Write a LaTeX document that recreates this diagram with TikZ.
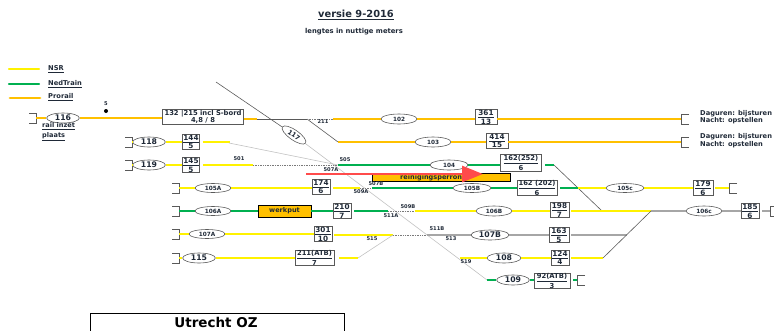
\documentclass[tikz,border=0pt]{standalone}
\usepackage{fontspec}
\setmainfont{DejaVu Sans}
\usetikzlibrary{positioning,shapes.geometric,arrows.meta,calc}
\definecolor{nsrYellow}{HTML}{FFF200}
\definecolor{ntGreen}{HTML}{00B050}
\definecolor{prOrange}{HTML}{FFC000}
\definecolor{inkText}{HTML}{1F2937}
\definecolor{lineGrey}{HTML}{A6A6A6}
\definecolor{edgeGrey}{HTML}{595959}
\definecolor{redArrow}{HTML}{FF4B4B}

\begin{document}
\begin{tikzpicture}[
  x=0.03cm, y=-0.03cm,
  every node/.style={text=inkText},
  oval/.style={ellipse, draw=edgeGrey, line width=0.5pt, fill=white, inner sep=0pt,
               minimum width=1.08cm, minimum height=0.3cm, font=\fontsize{4.9}{5}\selectfont\bfseries},
  ovalbig/.style={oval, minimum width=0.98cm, font=\fontsize{6.6}{7}\selectfont\bfseries},
  spot/.style={draw=edgeGrey, line width=0.8pt, fill=white, align=center, inner sep=0pt,
               font=\fontsize{6.2}{6.6}\selectfont\bfseries, minimum height=0.45cm},
  spotw/.style={spot, font=\fontsize{5.8}{6.6}\selectfont\bfseries},
  wissel/.style={font=\fontsize{4.4}{5}\selectfont\bfseries, inner sep=0pt},
  note/.style={font=\fontsize{5.7}{7}\selectfont\bfseries, align=left, inner sep=0pt, anchor=west},
  nsr/.style={draw=nsrYellow, line width=2pt},
  nedtrain/.style={draw=ntGreen, line width=2pt},
  prorail/.style={draw=prOrange, line width=2.3pt},
  grijs/.style={draw=lineGrey, line width=1.5pt},
  thinline/.style={draw=edgeGrey, line width=0.5pt},
  faint/.style={draw=lineGrey!70, line width=0.5pt},
  dotline/.style={draw=edgeGrey!80, line width=0.45pt, densely dotted},
  buffer/.style={draw=edgeGrey, line width=0.7pt},
]
\useasboundingbox (0,0) rectangle (774,330);

% ---------------- TITLE + LEGEND ----------------
\node[font=\fontsize{8.4}{9}\selectfont\bfseries, inner sep=0pt] (TITLE) at (356,15) {\underline{versie 9-2016}};
\node[font=\fontsize{5.8}{7}\selectfont\bfseries, inner sep=0pt] (SUB) at (354,32) {lengtes in nuttige meters};
\coordinate (legA1) at (9,69);  \coordinate (legA2) at (39,69);
\coordinate (legB1) at (9,84);  \coordinate (legB2) at (39,84);
\coordinate (legC1) at (10,98); \coordinate (legC2) at (40,98);
\draw[nsr, line cap=round] (legA1) -- (legA2);
\draw[nedtrain, line cap=round] (legB1) -- (legB2);
\draw[prorail, line cap=round] (legC1) -- (legC2);
\node[note] (legNSR) at (48,69) {\underline{NSR}};
\node[note] (legNT) at (48,84) {\underline{NedTrain}};
\node[note] (legPR) at (48,97) {\underline{Prorail}};

% ---------------- JUNCTIONS ----------------
\coordinate (J117a) at (216,82);
\coordinate (J211) at (307,119);
\coordinate (J102) at (333,119);
\coordinate (J103) at (338,142);
\coordinate (J118) at (229,143);
\coordinate (J505) at (338,165);
\coordinate (J501) at (253,165);
\coordinate (J117b) at (487,280);
\coordinate (J507) at (372,188);
\coordinate (J509) at (360,188);
\coordinate (J511) at (388,211);
\coordinate (J509b) at (415,211);
\coordinate (J515) at (393,235);
\coordinate (J511b) at (427,235);
\coordinate (J515b) at (358,258);
\coordinate (J108) at (603,258);
\coordinate (J106) at (651,211);
\coordinate (J105) at (578,188);
\coordinate (J162) at (554,165);
\coordinate (J162b) at (602,211);
\coordinate (J519) at (460,258);
\coordinate (J107) at (627,235);

% ---------------- NODES (absolute grid) ----------------
\node[ovalbig] (E116) at (63,118) {116};
\node[spotw, minimum width=2.43cm] (S132) at (203,117) {132 |215 incl S-bord\\4,8 / 8};
\node[oval] (E102) at (399,119) {102};
\node[spot, minimum width=0.66cm] (S361) at (486,117) {\underline{361}\\13};
\node[oval] (E103) at (433,142) {103};
\node[spot, minimum width=0.66cm] (S414) at (497,141) {\underline{414}\\15};
\node[oval, rotate=-35, minimum width=0.85cm, font=\fontsize{5.5}{6}\selectfont\bfseries] (E117) at (294,135) {117};
\node[ovalbig] (E118) at (149,142) {118};
\node[spot, minimum width=0.51cm] (S144) at (191,142) {\underline{144}\\5};
\node[ovalbig] (E119) at (149,165) {119};
\node[spot, minimum width=0.51cm] (S145) at (191,165) {\underline{145}\\5};
\node[oval, minimum width=1.14cm] (E104) at (449,165) {104};
\node[spotw, minimum width=1.23cm, minimum height=0.51cm] (S162a) at (521,163) {\underline{162(252)}\\6};

\node[oval, minimum height=0.27cm] (E105A) at (213,188) {105A};
\node[spot, minimum width=0.54cm] (S174) at (321,187) {\underline{174}\\6};
\node[oval, minimum width=1.14cm, minimum height=0.27cm] (E105B) at (472,188) {105B};
\node[spotw, minimum width=1.2cm] (S162b) at (537,188) {\underline{162 (202)}\\6};
\node[oval, minimum width=1.14cm, minimum height=0.27cm] (E105c) at (625,188) {105c};
\node[spot, minimum width=0.6cm] (S179) at (703,188) {\underline{179}\\6};

\node[oval, minimum height=0.27cm] (E106A) at (213,211) {106A};
\node[draw=black, line width=0.7pt, fill=prOrange, minimum width=1.59cm, minimum height=0.36cm,
      inner sep=0pt, font=\fontsize{5.6}{6}\selectfont\bfseries] (WERK) at (284.5,211) {werkput};
\node[spot, minimum width=0.54cm] (S210) at (342,211) {\underline{210}\\7};
\node[oval] (E106B) at (494,211) {106B};
\node[spot, minimum width=0.57cm] (S198) at (559.5,210) {\underline{198}\\7};
\node[oval] (E106c) at (704,211) {106c};
\node[spot, minimum width=0.54cm] (S185) at (750,211) {\underline{185}\\6};

\node[oval, minimum height=0.27cm] (E107A) at (207,234) {107A};
\node[spot, minimum width=0.54cm] (S301) at (323,234) {\underline{301}\\10};
\node[ovalbig, minimum width=1.14cm] (E107B) at (490,235) {107B};
\node[spot, minimum width=0.6cm] (S163) at (559,235) {\underline{163}\\5};

\node[ovalbig] (E115) at (199,258) {115};
\node[spotw, minimum width=1.17cm] (S211) at (314.5,258) {\underline{211(ATB)}\\7};
\node[ovalbig, minimum width=1.02cm] (E108) at (504,258) {108};
\node[spot, minimum width=0.54cm] (S124) at (560,258) {\underline{124}\\4};
\node[ovalbig] (E109) at (513,280) {109};
\node[spotw, minimum width=1.08cm] (S92) at (552,281) {\underline{92(ATB)}\\3};

% ---------------- BUFFER STOPS ----------------
\coordinate (B116) at (36,118);
\coordinate (B118) at (132,142);
\coordinate (B119) at (132,165);
\coordinate (B105) at (179,188);
\coordinate (B106) at (179,211);
\coordinate (B107) at (179,234);
\coordinate (B115) at (179,258);
\coordinate (B102) at (681,119);
\coordinate (B103) at (681,142);
\coordinate (B179) at (729,188);
\coordinate (B185) at (770,211);
\coordinate (B92) at (577,280);
\foreach \stopL in {B116,B118,B119,B105,B106,B107,B115}
  \draw[buffer] (\stopL) ++(-7,-5) -- ++(7,0) -- ++(0,10) -- ++(-7,0);
\foreach \stopR in {B102,B103,B179,B185,B92}
  \draw[buffer] (\stopR) ++(8,-5) -- ++(-8,0) -- ++(0,10) -- ++(8,0);

% ---------------- EDGES ----------------
% prorail
\draw[prorail] (B116) -- (E116);
\draw[prorail] (E116) -- (S132.west |- E116);
\draw[prorail] (S132.east |- J211) -- +(13,0) coordinate (P132);
\draw[thinline] (P132) -- (J211);
\draw[thinline] (J211) -- (J103);
\draw[dotline] (J211) -- (J102);
\draw[prorail] (J102) -- (E102);
\draw[prorail] (E102) -- (S361.west |- E102);
\draw[prorail] (S361.east |- E102) -- (B102);
\draw[prorail] (J103) -- (E103);
\draw[prorail] (E103) -- (S414.west |- E103);
\draw[prorail] (S414.east |- E103) -- (B103);
% diagonal 117
\draw[thinline] (J117a) -- (E117);
\draw[faint] (E117) -- (J117b);
% nsr left
\draw[nsr] (B118) -- (E118);
\draw[nsr] (E118) -- (S144);
\draw[nsr] (S144.east) ++(3,0) -- (S144.east -| J118) -- (J118);
\draw[faint] (J118) -- (J505);
\draw[nsr] (B119) -- (E119);
\draw[nsr] (E119) -- (S145);
\draw[nsr] (S145.east) ++(3,0) -- (J501);
\draw[dotline] (J501) -- (J505);
\draw[nedtrain] (J505) -- (E104);
\draw[nedtrain] (E104) -- (S162a.west |- E104);
\draw[nedtrain] (S162a.east |- E104) ++(3,0) -- (J162);
\draw[thinline] (J162) -- (J162b);
% row 105
\draw[nsr] (B105) -- (E105A);
\draw[nsr] (E105A) -- (S174.west |- E105A);
\draw[nsr] (S174.east |- E105A) ++(3,0) -- (J509);
\draw[dotline] (J509) -- (J507);
\draw[nedtrain] (J507) -- (E105B);
\draw[nedtrain] (E105B) -- (S162b);
\draw[nedtrain] (S162b.east) ++(3,0) -- (J105);
\draw[nsr] (J105) -- (E105c);
\draw[nsr] (E105c) -- (S179);
\draw[nsr] (S179.east) ++(2,0) -- (B179);
% row 106
\draw[nedtrain] (B106) -- (E106A);
\draw[nedtrain] (E106A) -- (WERK);
\draw[nedtrain] (WERK) -- (S210);
\draw[nedtrain] (S210.east) ++(3,0) -- (J511);
\draw[dotline] (J511) -- (J509b);
\draw[nsr] (J509b) -- (E106B);
\draw[nsr] (E106B) -- (S198.west |- E106B);
\draw[nsr] (S198.east |- E106B) ++(2,0) -- (J106);
\draw[grijs] (J106) -- (E106c);
\draw[grijs] (E106c) -- (S185);
\draw[grijs] (S185.east) ++(3,0) -- (B185);
% row 107
\draw[nsr] (B107) -- (E107A);
\draw[nsr] (E107A) -- (S301);
\draw[nsr] (S301.east |- J515) ++(2,0) -- (J515);
\draw[dotline] (J515) -- (J511b);
\draw[grijs] (J511b) -- (E107B);
\draw[grijs] (E107B) -- (S163);
\draw[grijs] (S163.east) ++(2,0) -- (J107);
% row 115
\draw[nsr] (B115) -- (E115);
\draw[nsr] (E115) -- (S211);
\draw[nsr] (S211.east) ++(5,0) -- (J515b);
\draw[faint] (J515b) -- (J515);
\draw[nsr] (J519) -- (E108);
\draw[nsr] (E108) -- (S124);
\draw[nsr] (S124.east) ++(2,0) -- (J108);
\draw[thinline] (J108) -- (J106);
\draw[nedtrain] (J117b) -- (E109);
\draw[nedtrain] (E109) -- (S92.west |- E109);
\draw[nedtrain] (S92.east |- E109) ++(3,0) -- (B92);

% ---------------- SIDING + ARROW ----------------
\node[draw=black, line width=0.6pt, fill=prOrange, minimum width=4.14cm, minimum height=0.24cm,
      inner sep=0pt] (SPOOR) at (441,177) {};
\node[font=\fontsize{5.6}{6}\selectfont\bfseries, inner sep=0pt, anchor=west] (SPOORT) at (400,178) {reinigingsperron};
\coordinate (ARa) at (306,174);
\coordinate (ARb) at (483,174);
\draw[redArrow, line width=2.4pt, -{Triangle[length=0.63cm,width=0.48cm]}] (ARa) -- (ARb);

% ---------------- LABELS ----------------
\node[wissel] (L5) at (106,104) {5};
\node[circle, fill=black, inner sep=0pt, minimum size=0.12cm] (DOT) at (106,111) {};
\node[note, font=\fontsize{5.6}{8}\selectfont\bfseries] (RAIL) at (42,132) {\underline{rail inzet}\\\underline{plaats}};
\node[wissel] (L211) at (323,122) {211};
\node[wissel] (L501) at (239,159) {501};
\node[wissel] (L505) at (345,160) {505};
\node[wissel] (L507A) at (331,170) {507A};
\node[wissel] (L507B) at (376,184) {507B};
\node[wissel] (L509A) at (361,192) {509A};
\node[wissel] (L509B) at (408,207) {509B};
\node[wissel] (L511A) at (391,216) {511A};
\node[wissel] (L511B) at (437,229) {511B};
\node[wissel] (L513) at (451,239) {513};
\node[wissel] (L515) at (372,239) {515};
\node[wissel] (L519) at (466,262) {519};
\node[note] (DAG1) at (700,114) {Daguren: bijsturen};
\node[note] (NAC1) at (700,121) {Nacht: opstellen};
\node[note] (DAG2) at (700,137) {Daguren: bijsturen};
\node[note] (NAC2) at (700,145) {Nacht: opstellen};

% ---------------- NAME BOX ----------------
\node[draw=black, line width=0.9pt, fill=white, minimum width=7.62cm, minimum height=1.2cm,
      anchor=north west, inner sep=0pt] (UTRECHT) at (90,313) {};
\node[font=\fontsize{11.5}{13}\selectfont\bfseries, text=black, inner sep=0pt] (UOZ) at (216,322) {Utrecht OZ};
\end{tikzpicture}
\end{document}
